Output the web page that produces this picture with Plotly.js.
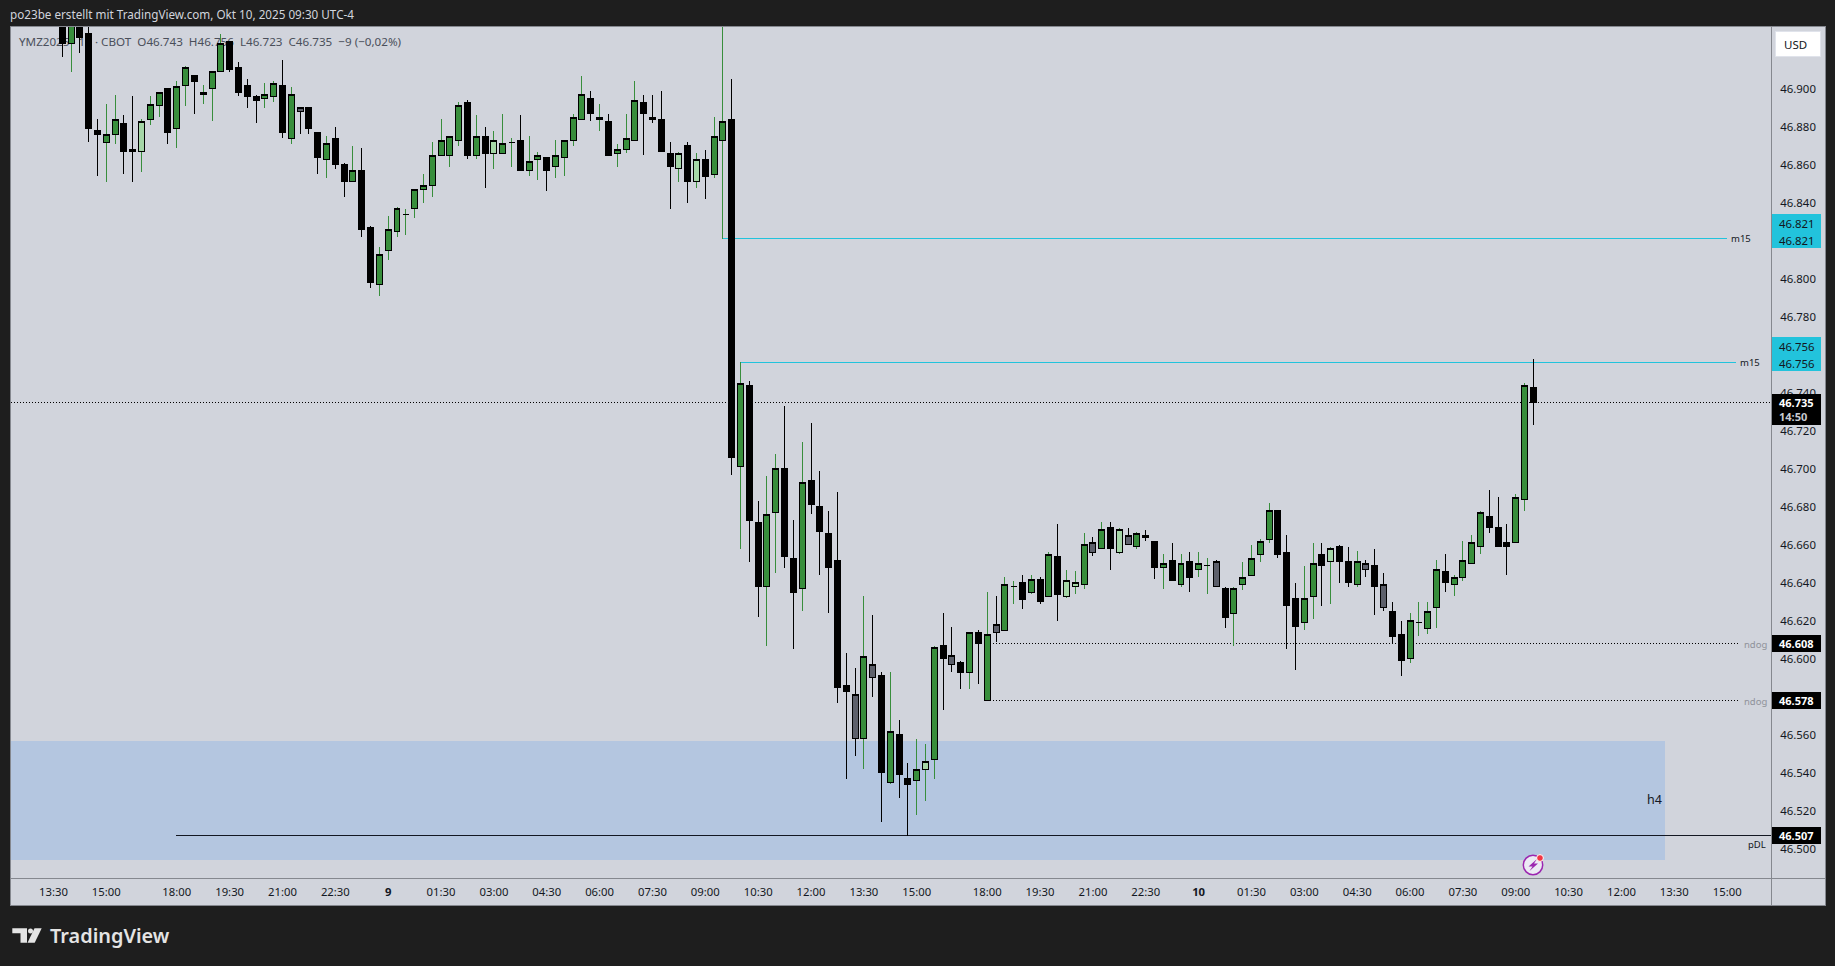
<!DOCTYPE html>
<html><head><meta charset="utf-8">
<script src="https://cdn.plot.ly/plotly-3.0.1.min.js"></script>
<style>html,body{margin:0;padding:0;background:#1e1e1e;overflow:hidden}#c{width:1835px;height:966px}
.boxes path,.layer-below .shapelayer path,.cartesianlayer .shapelayer path{shape-rendering:crispEdges}</style>
</head><body><div id="c"></div>
<script>
// 15-minute YMZ2025 bars. First bar = bar number -5, bar 0 = the 15:00 tick.
// g green, l light green, k black, s slate, d black dash on a green wick
const barKinds = ("kgkkkggkkl"+"ggkggklggk"+"kkkggkgskk"+"gkkgkkgggd"+"ggggggkgkl"+"gdkggkgggg"+"kgkgggkskk"+"lklkggkgkk"+
                  "ggkkgkkkkk"+"sgskgkkglg"+"kskgkgsgdk"+"gkgkllgsgk"+"lsgkkgkgkg"+"dskgggggkk"+"kggklkkgsk"+"skkgdggkgg"+"ggkkkggk").split("");
const open = [
46.945,46.924,46.945,46.929,46.878,46.872,46.876,46.882,46.868,46.867,
46.884,46.891,46.900,46.879,46.902,46.907,46.897,46.900,46.909,46.925,
46.911,46.902,46.896,46.895,46.896,46.902,46.874,46.890,46.890,46.877,
46.863,46.874,46.860,46.851,46.857,46.827,46.797,46.815,46.825,46.834,
46.837,46.847,46.849,46.865,46.865,46.873,46.893,46.865,46.875,46.866,
46.866,46.872,46.873,46.857,46.863,46.864,46.859,46.864,46.873,46.884,
46.895,46.884,46.883,46.866,46.868,46.873,46.893,46.885,46.884,46.866,
46.858,46.870,46.851,46.863,46.855,46.873,46.884,46.701,46.744,46.672,
46.638,46.677,46.700,46.653,46.637,46.694,46.680,46.666,46.652,46.586,
46.581,46.558,46.597,46.591,46.535,46.560,46.537,46.536,46.542,46.547,
46.607,46.602,46.598,46.593,46.614,46.578,46.618,46.615,46.638,46.640,
46.635,46.642,46.633,46.654,46.633,46.638,46.639,46.661,46.658,46.669,
46.656,46.665,46.659,46.665,46.662,46.648,46.652,46.639,46.651,46.647,
46.649,46.651,46.637,46.624,46.639,46.644,46.655,46.663,46.678,46.656,
46.632,46.619,46.633,46.655,46.651,46.659,46.651,46.639,46.650,46.649,
46.639,46.625,46.613,46.600,46.619,46.616,46.627,46.646,46.639,46.643,
46.650,46.659,46.675,46.669,46.661,46.661,46.684,46.743];
const high = [
46.950,46.950,46.950,46.950,46.884,46.892,46.897,46.886,46.896,46.884,
46.896,46.898,46.900,46.904,46.912,46.907,46.902,46.909,46.929,46.925,
46.914,46.905,46.897,46.903,46.904,46.915,46.901,46.890,46.890,46.877,
46.875,46.880,46.861,46.870,46.869,46.828,46.817,46.833,46.838,46.837,
46.847,46.855,46.872,46.884,46.875,46.893,46.894,46.886,46.880,46.878,
46.887,46.874,46.886,46.875,46.867,46.864,46.873,46.873,46.887,46.907,
46.899,46.892,46.887,46.871,46.887,46.904,46.897,46.897,46.899,46.872,
46.867,46.872,46.866,46.868,46.885,46.945,46.905,46.756,46.746,46.683,
46.696,46.708,46.733,46.673,46.714,46.724,46.699,46.678,46.688,46.603,
46.595,46.633,46.623,46.593,46.593,46.568,46.545,46.558,46.555,46.607,
46.624,46.617,46.599,46.614,46.615,46.635,46.633,46.643,46.641,46.644,
46.644,46.643,46.656,46.671,46.647,46.646,46.666,46.664,46.672,46.672,
46.669,46.669,46.667,46.668,46.662,46.655,46.661,46.655,46.656,46.656,
46.653,46.652,46.638,46.638,46.651,46.660,46.663,46.682,46.678,46.665,
46.640,46.649,46.661,46.661,46.659,46.660,46.659,46.657,46.652,46.658,
46.645,46.630,46.620,46.624,46.630,46.630,46.652,46.655,46.644,46.662,
46.665,46.678,46.689,46.685,46.671,46.687,46.745,46.758];
const low = [
46.917,46.909,46.919,46.872,46.854,46.851,46.871,46.855,46.851,46.856,
46.881,46.885,46.871,46.869,46.891,46.887,46.892,46.883,46.909,46.909,
46.896,46.890,46.882,46.890,46.893,46.874,46.871,46.876,46.876,46.855,
46.853,46.858,46.843,46.851,46.822,46.795,46.791,46.810,46.822,46.823,
46.832,46.840,46.843,46.865,46.859,46.870,46.863,46.863,46.848,46.858,
46.866,46.859,46.857,46.854,46.852,46.846,46.853,46.854,46.870,46.884,
46.883,46.878,46.865,46.859,46.866,46.873,46.865,46.882,46.867,46.837,
46.851,46.840,46.848,46.842,46.853,46.821,46.697,46.658,46.651,46.622,
46.607,46.645,46.648,46.605,46.625,46.676,46.644,46.624,46.577,46.537,
46.549,46.542,46.580,46.514,46.534,46.527,46.507,46.518,46.525,46.537,
46.573,46.593,46.584,46.584,46.587,46.578,46.609,46.615,46.629,46.626,
46.634,46.629,46.633,46.620,46.632,46.634,46.637,46.654,46.658,46.647,
46.655,46.660,46.658,46.662,46.642,46.637,46.641,46.638,46.635,46.643,
46.634,46.638,46.616,46.607,46.636,46.644,46.651,46.661,46.653,46.605,
46.594,46.615,46.621,46.628,46.629,46.640,46.638,46.638,46.643,46.623,
46.625,46.608,46.591,46.598,46.612,46.613,46.616,46.635,46.633,46.641,
46.650,46.655,46.666,46.659,46.644,46.661,46.678,46.723];
const close = [
46.924,46.945,46.927,46.879,46.876,46.876,46.884,46.867,46.867,46.883,
46.892,46.898,46.877,46.901,46.911,46.904,46.898,46.909,46.924,46.910,
46.898,46.896,46.894,46.897,46.903,46.877,46.897,46.888,46.879,46.864,
46.871,46.860,46.851,46.857,46.826,46.798,46.813,46.826,46.837,46.834,
46.847,46.849,46.865,46.873,46.875,46.891,46.865,46.875,46.866,46.873,
46.871,46.872,46.857,46.862,46.865,46.857,46.865,46.873,46.885,46.897,
46.887,46.885,46.865,46.868,46.874,46.894,46.887,46.884,46.867,46.859,
46.866,46.851,46.863,46.854,46.875,46.883,46.706,46.745,46.673,46.638,
46.676,46.700,46.654,46.635,46.693,46.681,46.667,46.648,46.585,46.583,
46.558,46.601,46.590,46.540,46.562,46.539,46.534,46.542,46.546,46.606,
46.600,46.597,46.593,46.614,46.608,46.613,46.614,46.639,46.638,46.631,
46.642,46.630,46.655,46.634,46.641,46.640,46.660,46.656,46.668,46.658,
46.668,46.660,46.666,46.664,46.648,46.650,46.641,46.650,46.643,46.650,
46.649,46.638,46.622,46.637,46.643,46.653,46.662,46.678,46.655,46.628,
46.617,46.632,46.650,46.649,46.658,46.651,46.640,46.651,46.647,46.638,
46.627,46.612,46.599,46.620,46.619,46.625,46.647,46.640,46.643,46.652,
46.661,46.677,46.669,46.659,46.659,46.685,46.744,46.735];

const timeTickBars   = [-6,0,8,14,20,26,32,38,44,50,56,62,68,74,80,86,92,100,106,112,118,124,130,136,142,148,154,160,166,172,178,184];
const timeTickLabels = ["13:30","15:00","18:00","19:30","21:00","22:30","<b>9</b>","01:30","03:00","04:30","06:00","07:30","09:00","10:30","12:00","13:30","15:00","18:00","19:30","21:00","22:30","<b>10</b>","01:30","03:00","04:30","06:00","07:30","09:00","10:30","12:00","13:30","15:00"];
const priceTicks = [46.5,46.52,46.54,46.56,46.6,46.62,46.64,46.66,46.68,46.7,46.72,46.74,46.78,46.8,46.84,46.86,46.88,46.9];

const lastPrice = 46.735, m15Upper = 46.821, m15Lower = 46.756, ndogUpper = 46.608, ndogLower = 46.578, prevDayLow = 46.507;
const zoneTop = 46.5565, zoneBottom = 46.494;

const barNumbers = open.map((_, i) => i - 5);

// ---- geometry of the page (pixels) ----
const L = 11, R = 1771, T = 27, B = 878, Y469 = 88.8;
const px = v => (v - L) / (R - L);
const py = v => (B - v) / (B - T);
const FONT = '"Noto Sans","Open Sans",sans-serif';
const GREEN = "#388e3c", LIGHT = "#a5d6a7", BLACK = "#000000", SLATE = "#5d606b", CYAN = "#22c3dc", INK = "#131722";

const pick = (arr, test) => arr.map((v, i) => test(barKinds[i]) ? v : null);
const bodyTop = open.map((o, i) => Math.max(o, close[i]));
const bodyBot = open.map((o, i) => Math.min(o, close[i]));
function wick(test, color) {
  const line = {color, width: 1};
  return {type: "candlestick", x: barNumbers, open: pick(open, test), high: pick(high, test), low: pick(low, test), close: pick(close, test),
    whiskerwidth: 0, hoverinfo: "skip", showlegend: false,
    increasing: {line, fillcolor: color}, decreasing: {line, fillcolor: color}};
}
function body(test, fill) {
  const line = {color: BLACK, width: 1};
  return {type: "candlestick", x: barNumbers, open: pick(bodyBot, test), high: pick(bodyTop, test), low: pick(bodyBot, test), close: pick(bodyTop, test),
    whiskerwidth: 0, hoverinfo: "skip", showlegend: false,
    increasing: {line, fillcolor: fill}, decreasing: {line, fillcolor: fill}};
}
const traces = [
  wick(k => "gld".includes(k), GREEN),
  wick(k => "ks".includes(k), BLACK),
  body(k => k === "g", GREEN),
  body(k => k === "l", LIGHT),
  body(k => k === "k" || k === "d", BLACK),
  body(k => k === "s", SLATE)
];

const barAt = v => (v - 106.3) / 8.809;
const shapes = [];
const rectPx = (x0, y0, x1, y1, fill, layer, line) => shapes.push({type: "rect", xref: "paper", yref: "paper", x0: px(x0), x1: px(x1), y0: py(y0), y1: py(y1), fillcolor: fill, layer: layer || "above", line: line || {width: 0}});
const hline = (x0, x1, y, color, width, dash, xref) => shapes.push({type: "line", layer: "below", xref: xref || "x", yref: "y", x0, x1, y0: y, y1: y, line: {color, width, dash: dash || "solid"}});

// frame
rectPx(10, 26.5, 1825, 905.5, "#d1d4dc", "below", {color: "#85888f", width: 1});
shapes.push({type: "line", layer: "below", xref: "paper", yref: "paper", x0: 1, x1: 1, y0: py(26.5), y1: py(905.5), line: {color: "#85888f", width: 1}});
shapes.push({type: "line", layer: "below", xref: "paper", yref: "paper", x0: px(10), x1: px(1825), y0: 0, y1: 0, line: {color: "#85888f", width: 1}});

// legend line sits under the candles
shapes.push({type: "rect", layer: "below", xref: "paper", yref: "paper", x0: px(16), x1: px(420), y0: py(35), y1: py(49), fillcolor: "rgba(0,0,0,0)", line: {width: 0},
  label: {text: "YMZ2025 · 15 · CBOT\u00a0\u00a0O46.743\u00a0\u00a0H46.756\u00a0\u00a0L46.723\u00a0\u00a0C46.735\u00a0\u00a0−9 (−0,02%)", textposition: "middle left", padding: 0, font: {family: FONT, size: 11.65, color: "#4a4f5a"}}});

// h4 zone and levels
shapes.push({type: "rect", layer: "below", xref: "paper", yref: "y", x0: 0, x1: px(1665), y0: zoneBottom, y1: zoneTop, fillcolor: "#b4c6e0", line: {width: 0}});
hline(0, 1, lastPrice, BLACK, 1, "1px,2px", "paper");
hline(barAt(722), barAt(1727), m15Upper, CYAN, 1);
hline(barAt(740), barAt(1736), m15Lower, CYAN, 1);
hline(barAt(993), barAt(1738), ndogUpper, BLACK, 1, "1px,2px");
hline(barAt(993), barAt(1738), ndogLower, BLACK, 1, "1px,2px");
hline(barAt(175.5), barAt(1771), prevDayLow, INK, 1);

// price tags
const annotations = [];
const label = (x, y, text, size, color, anchor, weight) => annotations.push({xref: "paper", yref: "paper", x: px(x), y: py(y), text, showarrow: false, xanchor: anchor || "left", yanchor: "middle", borderpad: 0, borderwidth: 0, font: {family: FONT, size, color, weight: weight || 400}});
[[214, 248, CYAN], [337, 371, CYAN], [394, 425, BLACK], [635, 652, BLACK], [692, 709, BLACK], [827, 844, BLACK]].forEach(b => rectPx(1772, b[0], 1821, b[1], b[2]));
label(1779, 223, "46.821", 11.4, INK); label(1779, 240, "46.821", 11.4, INK);
label(1779, 346, "46.756", 11.4, INK); label(1779, 363, "46.756", 11.4, INK);
label(1779, 402.5, "46.735", 11, "#ffffff", null, 700); label(1779, 416.5, "14:50", 11, "#c8cad0", null, 700);
label(1779, 643.5, "46.608", 11, "#ffffff", null, 700);
label(1779, 700.5, "46.578", 11, "#ffffff", null, 700);
label(1779, 835.5, "46.507", 11, "#ffffff", null, 700);

// USD button
rectPx(1775.5, 31.5, 1820.5, 56.5, "#ffffff", "above", {color: "#e0e3eb", width: 1});
label(1784, 44.5, "USD", 11.5, INK);

// chart labels
label(1731, 239, "m15", 9.5, INK);
label(1740, 362, "m15", 9.5, INK);
label(1744, 644, "ndog", 9.5, "#8f929a");
label(1744, 701, "ndog", 9.5, "#8f929a");
label(1748, 844, "pDL", 9.5, INK);
label(1647, 799, "h4", 12.5, INK);

// header and footer
label(10, 14, "po23be erstellt mit TradingView.com, Okt 10, 2025 09:30 UTC-4", 11.7, "#d1d4dc");
label(50, 935, "TradingView", 19.9, "#e4e4e4", null, 600);
const path = pts => "M" + pts.map(p => px(p[0]) + "," + py(p[1])).join(" L") + " Z";
const pathShape = (pts, fill) => shapes.push({type: "path", xref: "paper", yref: "paper", layer: "above", path: path(pts), fillcolor: fill, line: {width: 0}});
pathShape([[12.3,928.3],[27,928.3],[27,942.7],[20.5,942.7],[20.5,933.2],[12.3,933.2]], "#e4e4e4");
pathShape([[34.5,928.3],[41.7,928.3],[34.7,942.7],[27.5,942.7]], "#e4e4e4");
const circle = (cx, cy, r, fill, line) => shapes.push({type: "circle", xref: "paper", yref: "paper", layer: "above", x0: px(cx - r), x1: px(cx + r), y0: py(cy + r), y1: py(cy - r), fillcolor: fill, line});
circle(30.5, 931, 2.5, "#e4e4e4", {width: 0});

// lightning badge
circle(1533, 865, 9.7, "#eceaf4", {color: "#9c27b0", width: 1.5});
pathShape([[1537,859],[1528.5,866.5],[1532.5,866.5],[1529.5,871],[1538,863.5],[1534,863.5]], "#9c27b0");
circle(1540, 858, 3.4, "#f23645", {color: "#ffffff", width: 1});

const layout = {
  width: 1835, height: 966, autosize: false,
  paper_bgcolor: "#1e1e1e", plot_bgcolor: "#d1d4dc",
  margin: {l: L, r: 1835 - R, t: T, b: 966 - B, pad: 0},
  showlegend: false, boxmode: "overlay", boxgap: 0.32, boxgroupgap: 0,
  font: {family: FONT, size: 12, color: INK},
  xaxis: {type: "linear", range: [barAt(L), barAt(R)], rangeslider: {visible: false}, showgrid: false, zeroline: false, showline: false,
    tickmode: "array", tickvals: timeTickBars, ticktext: timeTickLabels, ticks: "outside", ticklen: 3, tickcolor: "rgba(0,0,0,0)",
    tickfont: {family: FONT, size: 11.3, color: INK}, fixedrange: true},
  yaxis: {type: "linear", side: "right", range: [46.9 - (B - Y469) / 1900, 46.9 + (Y469 - T) / 1900], showgrid: false, zeroline: false, showline: false,
    tickmode: "array", tickvals: priceTicks, tickformat: ".3f", ticks: "outside", ticklen: 6, tickcolor: "rgba(0,0,0,0)",
    tickfont: {family: FONT, size: 11.4, color: INK}, fixedrange: true},
  shapes, annotations
};
Plotly.newPlot("c", traces, layout, {displayModeBar: false, staticPlot: true});
</script>
</body></html>
